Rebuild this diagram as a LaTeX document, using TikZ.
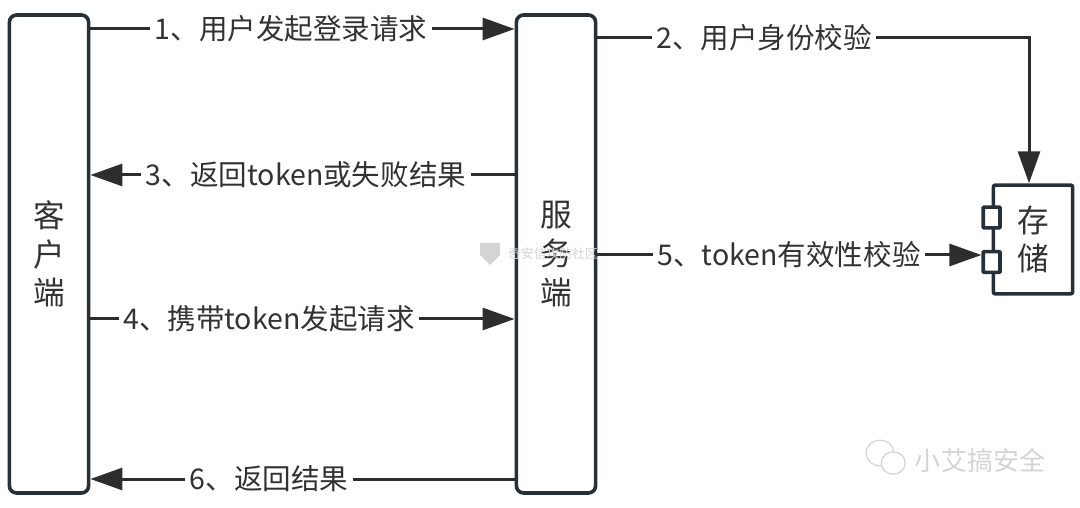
\documentclass[tikz,border=0pt]{standalone}
\usepackage{fontspec}
\setmainfont{Noto Sans CJK SC}
\usetikzlibrary{arrows.meta, positioning}
\definecolor{cBox}{RGB}{38,48,56}
\definecolor{cLine}{RGB}{45,45,45}
\definecolor{cText}{RGB}{50,50,50}
\definecolor{cMark}{RGB}{212,212,212}
\tikzset{
  box/.style={draw=cBox, fill=white, rounded corners=0.18cm, line width=0.09cm,
              minimum width=1.98cm, align=center, text=cText,
              font=\fontsize{22.5}{27.6}\selectfont},
  slot/.style={draw=cBox, fill=white, rounded corners=0.02cm, line width=0.09cm,
               minimum width=0.42cm, minimum height=0.52cm, inner sep=0pt},
  lbl/.style={text=cText, inner sep=3pt, font=\fontsize{20.3}{24}\selectfont},
  myline/.style={color=cLine, line width=0.075cm},
  myarr/.style={myline, -{Stealth[inset=0pt, length=0.8cm, width=0.55cm]}},
  wmark/.style={text=cMark, inner sep=0pt},
}
\begin{document}
\begin{tikzpicture}
\useasboundingbox (0,0) rectangle (27,12.675);

%% boxes
\node[box, minimum height=11.95cm] (client) at (1.225,6.325) {客\\户\\端};
\node[box, minimum height=11.95cm] (server) at (13.9,6.325) {服\\务\\端};
\node[box, minimum height=2.72cm, rounded corners=0.05cm] (store) at (25.825,6.6875) {存\\储};
\node[slot] (slotA) at ([yshift=0.55cm]store.west) {};
\node[slot] (slotB) at ([yshift=-0.5625cm]store.west) {};

%% labels
\node[lbl] (stepA) at (7.275,11.95)  {1、用户发起登录请求};
\node[lbl] (stepB) at (19.1,11.725)  {2、用户身份校验};
\node[lbl] (stepC) at (7.65,8.3)     {3、返回token或失败结果};
\node[lbl] (stepD) at (6.725,4.7)    {4、携带token发起请求};
\node[lbl] (stepE) at (19.725,6.3)   {5、token有效性校验};
\node[lbl] (stepF) at (6.725,0.7)    {6、返回结果};

%% client --> server
\draw[myline] (client.east |- stepA) -- (stepA);
\draw[myarr]  (stepA) -- (server.west |- stepA);
\draw[myline] (client.east |- stepD) -- (stepD);
\draw[myarr]  (stepD) -- (server.west |- stepD);

%% server --> client
\draw[myline] (server.west |- stepC) -- (stepC);
\draw[myarr]  (stepC) -- (client.east |- stepC);
\draw[myline] (server.west |- stepF) -- (stepF);
\draw[myarr]  (stepF) -- (client.east |- stepF);

%% server --> store
\draw[myline] (server.east |- stepB) -- (stepB);
\draw[myarr]  (stepB) -| ([xshift=-0.1cm]store.north);
\draw[myline] (server.east |- stepE) -- (stepE);
\draw[myarr]  (stepE) -- (stepE -| slotB.west);

%% watermarks
\node[wmark, font=\fontsize{9.1}{11}\selectfont] (markA) at (13.825,6.34) {奇安信攻防社区};
\fill[cMark] (12.0,6.6) -- (12.5,6.6) -- (12.5,6.3) -- (12.25,6.05) -- (12.0,6.3) -- cycle;
\node[wmark, font=\fontsize{18.5}{22}\selectfont] (markB) at (24.5,1.175) {小艾搞安全};
\draw[cMark, line width=0.03cm, fill=white] (22,1.35) ellipse (0.35cm and 0.32cm);
\draw[cMark, line width=0.03cm, fill=white] (22.33,1.1) ellipse (0.3cm and 0.28cm);

\end{tikzpicture}
\end{document}
